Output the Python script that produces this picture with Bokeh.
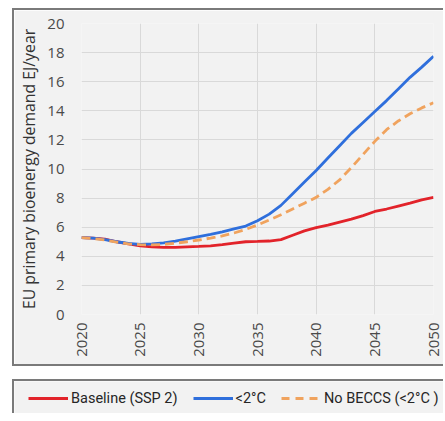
from bokeh.plotting import figure
from bokeh.layouts import column
from bokeh.models import Range1d, FixedTicker, Legend, LegendItem
from bokeh.embed import file_html
from bokeh.resources import INLINE
import math

# EU primary bioenergy demand (EJ/year), annual values
years = list(range(2020, 2051))
baseline_ssp2 = [5.28, 5.25, 5.18, 5.00, 4.85, 4.72, 4.65, 4.62, 4.62, 4.65,
                 4.68, 4.72, 4.80, 4.90, 5.00, 5.02, 5.05, 5.15, 5.45, 5.75,
                 5.97, 6.15, 6.35, 6.55, 6.80, 7.08, 7.25, 7.45, 7.65, 7.88,
                 8.05]
below_2c = [5.28, 5.25, 5.15, 5.00, 4.88, 4.82, 4.85, 4.92, 5.05, 5.20,
            5.35, 5.50, 5.68, 5.88, 6.08, 6.45, 6.90, 7.50, 8.30, 9.10,
            9.90, 10.75, 11.60, 12.45, 13.20, 13.95, 14.70, 15.50, 16.30, 17.00,
            17.75]
no_beccs = [5.28, 5.22, 5.12, 4.98, 4.85, 4.80, 4.78, 4.82, 4.90, 5.00,
            5.12, 5.25, 5.40, 5.60, 5.85, 6.15, 6.50, 6.85, 7.25, 7.65,
            8.05, 8.60, 9.25, 10.10, 11.00, 11.90, 12.70, 13.30, 13.80, 14.20,
            14.55]

x_ticks = [2020, 2025, 2030, 2035, 2040, 2045, 2050]
y_ticks = list(range(0, 21, 2))
series_names = ["Baseline (SSP 2)", "<2°C", "No BECCS (<2°C )"]

RED = "#e2232a"
BLUE = "#2f6fdc"
ORANGE = "#f0a35e"
PANEL = "#f2f2f2"
GRID = "#d9d9d9"
FRAME = "#7a7a7a"
TICK_FONT = "Open Sans"
LEGEND_FONT = "Roboto"

p = figure(width=431, height=358, output_backend="svg", toolbar_location=None,
           x_range=Range1d(2020, 2050), y_range=Range1d(0, 20),
           min_border_left=67, min_border_right=12, min_border_top=13,
           min_border_bottom=54)
p.margin = (8, 0, 0, 12)
p.styles = {"border-top": f"2px solid {FRAME}", "border-left": f"2px solid {FRAME}",
            "border-bottom": f"2px solid {FRAME}"}
p.background_fill_color = PANEL
p.border_fill_color = PANEL
p.outline_line_color = None

p.line(years, baseline_ssp2, line_color=RED, line_width=2.8)
p.line(years, below_2c, line_color=BLUE, line_width=2.8)
p.line(years, no_beccs, line_color=ORANGE, line_width=2.8, line_dash="9 5")

p.xaxis.ticker = FixedTicker(ticks=x_ticks)
p.yaxis.ticker = FixedTicker(ticks=y_ticks)
p.xaxis.major_label_orientation = math.pi / 2
for ax in (p.xaxis, p.yaxis):
    ax.axis_line_color = None
    ax.major_tick_line_color = None
    ax.minor_tick_line_color = None
    ax.major_tick_out = 0
    ax.major_tick_in = 0
    ax.minor_tick_out = 0
    ax.major_label_text_font = TICK_FONT
    ax.major_label_text_font_size = "15px"
    ax.major_label_text_color = "#4a4a4a"
p.yaxis.major_label_standoff = 17
p.xaxis.major_label_standoff = 8
p.yaxis.axis_label = "EU primary bioenergy demand EJ/year"
p.yaxis.axis_label_text_font = TICK_FONT
p.yaxis.axis_label_text_font_size = "15.8px"
p.yaxis.axis_label_text_font_style = "normal"
p.yaxis.axis_label_text_color = "#333333"
p.yaxis.axis_label_standoff = 4
p.grid.grid_line_color = GRID
p.grid.grid_line_width = 1

# Legend panel below the chart; its renderers hold the series but sit off-range
lg = figure(width=431, height=34, output_backend="svg", toolbar_location=None,
            x_range=Range1d(0, 1), y_range=Range1d(0, 1),
            x_axis_location=None, y_axis_location=None,
            min_border_left=0, min_border_right=0, min_border_top=0,
            min_border_bottom=0)
lg.frame_align = False
lg.margin = (13, 0, 0, 12)
lg.styles = {"border-top": f"2px solid {FRAME}", "border-left": f"2px solid {FRAME}"}
lg.background_fill_color = PANEL
lg.border_fill_color = PANEL
lg.outline_line_color = None
lg.grid.visible = False
r1 = lg.line(years, baseline_ssp2, line_color=RED, line_width=2.8)
r2 = lg.line(years, below_2c, line_color=BLUE, line_width=2.8)
r3 = lg.line(years, no_beccs, line_color=ORANGE, line_width=2.8, line_dash="8 6")
legend = Legend(items=[LegendItem(label=series_names[0], renderers=[r1]),
                       LegendItem(label=series_names[1], renderers=[r2]),
                       LegendItem(label=series_names[2], renderers=[r3])],
                orientation="horizontal", location=(14, 7), padding=0, margin=0,
                glyph_width=40, glyph_height=20, label_standoff=3, spacing=15,
                label_text_font=LEGEND_FONT, label_text_font_size="14.5px",
                label_text_color="#262626", border_line_alpha=0,
                background_fill_alpha=0)
lg.add_layout(legend)

layout = column(p, lg, spacing=0)
open("out.html", "w").write(file_html(layout, INLINE))
